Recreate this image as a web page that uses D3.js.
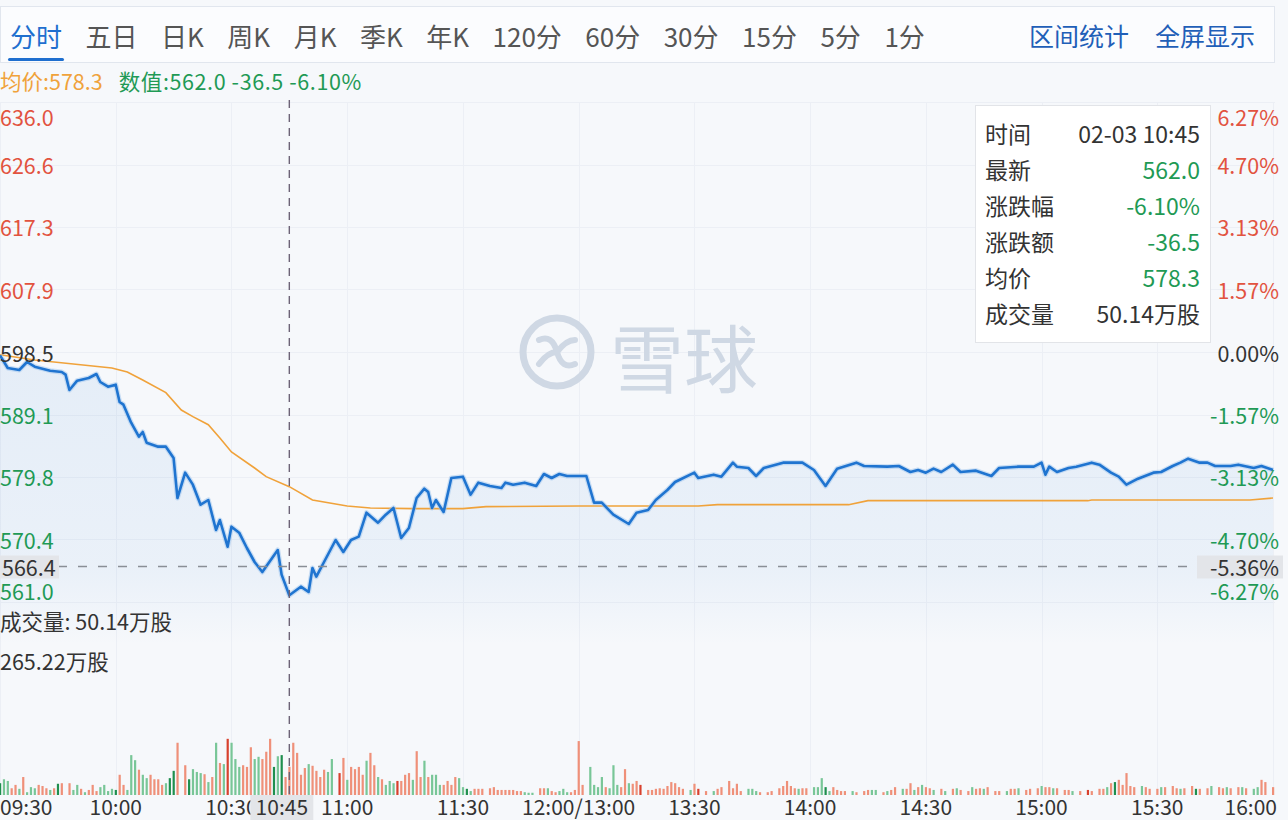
<!DOCTYPE html>
<html><head><meta charset="utf-8">
<script src="https://cdn.jsdelivr.net/npm/d3@7"></script>
<style>
body{margin:0;background:#f6f8fb;}
svg{display:block;font-family:"Noto Sans CJK SC","Noto Sans",sans-serif;}
</style>
</head><body>
<svg id="chart" width="1288" height="820"></svg>
<script>
// ---------------- data ----------------
const tabs = ["分时","五日","日K","周K","月K","季K","年K","120分","60分","30分","15分","5分","1分"];
const rightTabs = ["区间统计","全屏显示"];
const basePrice = 598.5;
const priceTicks = [636.0, 626.6, 617.3, 607.9, 598.5, 589.1, 579.8, 570.4, 561.0];
const pctTicks = ["6.27%","4.70%","3.13%","1.57%","0.00%","-1.57%","-3.13%","-4.70%","-6.27%"];
const timeTicks = [0,30,60,90,120,150,180,210,240,270,300,330]; // trading minutes since 09:30
const timeLabels = ["09:30","10:00","10:30","11:00","11:30","12:00/13:00","13:30","14:00","14:30","15:00","15:30","16:00"];

// price (blue) line: trading minute -> price
const priceMin = [0,2,5,7,9,13,16,17,18,20,23,25,26,28,30,31,32,34,36,37,38,41,43,45,46,48,50,52,54,56,57,59,60,62,64,66,68,72,73,75,78,80,81,82,84,87,89,91,93,95,98,100,102,104,106,108,110,111,112,113,115,117,120,122,124,127,130,131,133,136,139,141,143,145,147,152,154,156,159,163,165,168,170,173,175,180,181,185,187,190,191,194,196,198,203,206,208,211,214,217,222,224,230,233,236,238,240,242,244,247,249,253,257,259,264,268,270,271,272,274,277,279,283,285,288,290,292,295,299,301,304,306,308,311,313,315,319,321,325,327,330];
const priceVal = [598.0,596.1,595.8,597.0,596.3,595.7,595.5,595.1,592.8,594.2,594.6,595.2,594.0,593.3,593.6,591.0,590.6,587.9,585.8,586.5,584.9,584.3,584.3,582.6,576.6,580.4,578.6,575.6,576.3,571.8,573.3,569.3,572.3,571.4,569.1,567.0,565.5,568.8,565.1,562.0,563.3,562.5,566.1,564.8,567.0,570.3,568.5,570.3,570.8,574.4,572.9,574.1,575.1,570.6,572.1,576.6,578.0,577.5,575.1,576.3,574.5,579.6,579.8,577.1,578.9,578.4,578.1,578.9,578.6,578.9,578.4,580.2,579.6,580.2,579.9,579.9,575.9,575.9,574.1,572.7,574.4,574.8,576.3,577.8,579.0,580.4,579.6,580.1,579.8,581.9,581.3,581.1,579.9,581.1,581.9,581.9,581.9,580.8,578.4,581.0,581.9,581.4,581.3,581.4,580.5,580.8,580.4,581.0,580.5,581.6,580.5,580.7,579.9,581.1,581.3,581.3,581.9,580.1,581.3,580.5,581.1,581.3,581.9,581.6,580.4,579.8,578.6,579.5,580.4,580.5,581.4,581.9,582.5,581.9,581.9,581.4,581.4,581.6,581.1,581.4,580.8];

// average price (orange) line
const avgMin = [0,9,29,33,37,43,47,50,54,57,60,66,69,75,81,90,96,107,120,126,150,181,186,220,225,282,283,324,330];
const avgVal = [598.1,597.3,596.1,595.5,594.3,592.4,589.8,588.8,587.6,585.6,583.5,581.1,579.8,578.3,576.3,575.4,575.1,575.0,575.0,575.3,575.4,575.4,575.6,575.6,576.2,576.2,576.3,576.3,576.6];

// volume bars (万股): minute, volume, colour code (r/R = up, g/G = down; capitals darker)
const volMin = [0,1,2,3,4,5,6,7,8,9,10,11,12,13,14,15,16,18,19,20,21,22,23,24,25,26,27,28,29,30,31,32,33,34,35,36,37,38,39,40,41,42,43,44,45,46,48,49,50,51,52,53,54,55,56,57,58,59,60,61,62,63,64,65,66,67,68,69,70,71,72,73,74,75,76,77,78,79,80,81,82,83,84,
85,86,88,89,90,91,92,93,94,95,96,97,98,99,100,101,102,103,104,105,106,107,108,109,110,111,112,113,114,115,116,117,118,119,120,121,122,123,124,125,127,128,129,130,131,132,133,134,135,136,137,138,140,141,142,143,144,145,146,147,148,149,
150,151,153,154,155,156,157,158,159,160,161,162,163,164,165,
166,168,169,170,171,172,173,174,175,176,177,179,180,181,183,185,186,187,189,190,191,192,194,195,196,197,199,200,202,203,204,205,206,207,208,209,211,212,213,214,215,216,217,218,219,221,222,224,225,226,227,229,230,231,232,234,235,236,237,238,239,240,241,242,244,245,247,248,249,251,252,253,254,255,256,258,259,261,262,263,264,266,267,269,270,271,272,273,274,276,277,278,280,282,283,285,286,287,288,289,290,291,292,293,294,296,297,298,300,301,302,304,305,306,307,309,310,311,313,314,316,317,318,319,321,322,323,325,326,327,328,330];
const volVal = [21,28,25,12,18,11,32,5,14,12,18,16,12,9,12,20,21,21,9,18,11,5,9,18,7,14,18,7,11,9,36,18,9,71,62,45,36,30,36,28,28,18,21,30,43,93,53,28,46,41,39,37,23,32,93,57,55,100,93,64,50,53,50,85,64,68,64,77,100,50,69,71,32,50.14,93,75,36,48,55,52,43,32,45,
41,64,39,66,27,50,46,50,36,61,75,53,32,28,18,25,21,25,25,36,39,27,78,32,61,32,36,36,18,18,25,18,32,30,14,11,7,11,11,11,12,14,9,9,9,9,9,7,7,5,4,4,12,12,12,7,5,7,11,5,5,9,
96,18,50,18,14,32,14,12,53,18,14,46,21,20,25,
18,9,9,11,12,11,16,23,21,14,11,9,20,11,7,7,11,14,25,12,20,7,11,11,7,5,5,7,12,16,25,16,12,11,12,12,14,14,30,14,7,14,9,7,7,7,5,7,9,9,9,5,7,9,14,11,11,21,9,14,18,14,12,9,11,7,11,12,9,7,14,11,12,11,14,7,7,7,11,11,12,9,11,12,16,14,14,12,12,9,9,7,7,9,7,11,11,14,21,23,27,18,39,16,14,16,14,11,11,14,14,16,12,11,12,16,11,11,12,16,14,12,14,12,14,14,12,11,14,27,23,14];
const volCol = "GggrrgrgggrrrgrGrrggrgrrrggggGrrgggrggrrrrgGGrrGgggrgrgrgRgggrrrggrrrGgGrrrrrrgrr"
 + "rrggRrgrrrrgrrgrgggRrrrgrrgrgggrrrrggGgrrrrrrrrrrrrgggrrgrrgggrr"
 + "rrggggrgggrrgrrR"
 + "rrrrrrrrrrgrRrgrrrrrrgggrrrrrrrrgrrgggGgrrrrgrrrggrgrrgrrgrgrrgrgrgrrgrrgrrrgrrgrrrgrrgrrrgrRrrrgrGrrrrrgrrrgrrrgrrGrrgrrgrrgrgg";
const maxVol = 265.22;

// tooltip contents
const tipLabels = ["时间","最新","涨跌幅","涨跌额","均价","成交量"];
const tipValues = ["02-03 10:45","562.0","-6.10%","-36.5","578.3","50.14万股"];
const crossMin = 75;          // 10:45
const crossTimeLabel = "10:45";
const lowLine = 566.4;
const lowLinePct = "-5.36%";
const volNow = "50.14万股";

// ---------------- drawing ----------------
const RED = "#e2533f", GREEN = "#1f9a55", DARK = "#333", ORANGE = "#f0a23a", BLUE = "#1f74d0";
const svg = d3.select("#chart");
const W = 1288, H = 820;
svg.append("rect").attr("width", W).attr("height", H).attr("fill", "#f6f8fb");

const x = d3.scaleLinear().domain([0, 330]).range([0, 1273]);
const y = d3.scaleLinear().domain([561.0, 636.0]).range([602, 102]);
const yv = d3.scaleLinear().domain([0, maxVol]).range([795, 646]);

// defs
const defs = svg.append("defs");
const grad = defs.append("linearGradient").attr("id", "areaGrad").attr("x1", 0).attr("y1", 0).attr("x2", 0).attr("y2", 1);
grad.append("stop").attr("offset", "0%").attr("stop-color", "#1f74d0").attr("stop-opacity", 0.08);
grad.append("stop").attr("offset", "75%").attr("stop-color", "#1f74d0").attr("stop-opacity", 0.055);
grad.append("stop").attr("offset", "100%").attr("stop-color", "#1f74d0").attr("stop-opacity", 0.0);

// header tab bar
svg.append("rect").attr("x", 0.5).attr("y", 6.5).attr("width", 1274).attr("height", 56)
  .attr("fill", "#fbfcfe").attr("stroke", "#e1e6ee");
const tabG = svg.append("g");
let tx = 10;
tabs.forEach((t, i) => {
  const el = tabG.append("text").attr("x", tx).attr("y", 35).attr("dominant-baseline", "central")
    .attr("font-size", 26).attr("fill", i === 0 ? "#1f6fcf" : "#555").text(t);
  const w = el.node().getComputedTextLength();
  if (i === 0) tabG.append("rect").attr("x", tx - 2).attr("y", 58).attr("width", w + 4).attr("height", 3).attr("rx", 1.5).attr("fill", "#1f6fcf");
  tx += w + 23.5;
});
let rx = 1255;
rightTabs.slice().reverse().forEach(t => {
  const el = tabG.append("text").attr("x", rx).attr("y", 35).attr("dominant-baseline", "central")
    .attr("text-anchor", "end").attr("font-size", 25).attr("fill", "#1f5fb8").text(t);
  rx -= el.node().getComputedTextLength() + 26;
});

// info line
const info = svg.append("text").attr("x", 0).attr("y", 80).attr("dominant-baseline", "central").attr("font-size", 21.5);
info.append("tspan").attr("fill", ORANGE).text("均价:" + avgVal[avgMin.indexOf(crossMin)].toFixed(1));
info.append("tspan").attr("dx", 16).attr("fill", GREEN).attr("letter-spacing", 0.6).text("数值:" + tipValues[1] + " " + tipValues[3] + " " + tipValues[2]);

// grid
const grid = svg.append("g").attr("stroke", "#eceff5").attr("stroke-width", 1);
priceTicks.forEach(v => grid.append("line").attr("x1", 0).attr("x2", 1275).attr("y1", Math.round(y(v)) + 0.5).attr("y2", Math.round(y(v)) + 0.5));
timeTicks.forEach(t => grid.append("line").attr("x1", Math.round(x(t)) + 0.5).attr("x2", Math.round(x(t)) + 0.5).attr("y1", 102).attr("y2", 795));

// watermark
const wm = svg.append("g");
wm.append("circle").attr("cx", 557).attr("cy", 352).attr("r", 34).attr("fill", "none").attr("stroke", "#cfd8e4").attr("stroke-width", 7);
wm.append("path").attr("d", "M539,340 Q552,334 557,352 Q562,370 575,364 M539,364 Q548,352 557,352 M557,352 Q566,340 575,340")
  .attr("fill", "none").attr("stroke", "#cfd8e4").attr("stroke-width", 6).attr("stroke-linecap", "round");
wm.append("text").attr("x", 610).attr("y", 354).attr("dominant-baseline", "central").attr("font-size", 74)
  .attr("fill", "#cfd8e4").text("雪球");

// price area + lines
const pts = priceMin.map((m, i) => [m, priceVal[i]]);
svg.append("path").datum(pts)
  .attr("d", d3.area().x(d => x(d[0])).y0(645).y1(d => y(d[1])))
  .attr("fill", "url(#areaGrad)");
svg.append("path").datum(avgMin.map((m, i) => [m, avgVal[i]]))
  .attr("d", d3.line().x(d => x(d[0])).y(d => y(d[1])))
  .attr("fill", "none").attr("stroke", ORANGE).attr("stroke-width", 1.6);
svg.append("path").datum(pts)
  .attr("d", d3.line().x(d => x(d[0])).y(d => y(d[1])))
  .attr("fill", "none").attr("stroke", "#9cc3ee").attr("stroke-width", 5).attr("stroke-opacity", 0.5).attr("stroke-linejoin", "round");
svg.append("path").datum(pts)
  .attr("d", d3.line().x(d => x(d[0])).y(d => y(d[1])))
  .attr("fill", "none").attr("stroke", BLUE).attr("stroke-width", 2.6).attr("stroke-linejoin", "round");

// volume bars
const colMap = { r: "#ef9079", R: "#d8412e", g: "#78c697", G: "#1f8f4e" };
svg.append("g").selectAll("rect").data(volMin.map((m, i) => ({ m, v: volVal[i], c: volCol[i] })))
  .join("rect")
  .attr("x", d => x(d.m) - 1).attr("width", 2.2)
  .attr("y", d => yv(d.v)).attr("height", d => yv(0) - yv(d.v))
  .attr("fill", d => colMap[d.c] || colMap.r);

// axes labels (left price / right pct)
const axL = svg.append("g").attr("font-size", 21.5);
priceTicks.forEach((v, i) => {
  const c = v > basePrice ? RED : (v < basePrice ? GREEN : DARK);
  const dy = i === 0 ? 14 : (i === priceTicks.length - 1 ? -12 : 0);
  axL.append("text").attr("x", 0).attr("y", y(v) + dy).attr("dominant-baseline", "central").attr("fill", c).text(v.toFixed(1));
  axL.append("text").attr("x", 1279).attr("y", y(v) + dy).attr("dominant-baseline", "central").attr("text-anchor", "end").attr("fill", c).text(pctTicks[i]);
});

// low dashed line with markers
const yl = Math.round(y(lowLine)) + 0.5;
svg.append("line").attr("x1", 58).attr("x2", 1197).attr("y1", yl).attr("y2", yl)
  .attr("stroke", "#8a8f96").attr("stroke-width", 1.5).attr("stroke-dasharray", "9,11");
svg.append("rect").attr("x", 0).attr("y", yl - 11).attr("width", 59).attr("height", 23).attr("fill", "#e3e5e9");
svg.append("text").attr("x", 2).attr("y", yl).attr("dominant-baseline", "central").attr("font-size", 21.5).attr("fill", DARK).text(lowLine.toFixed(1));
svg.append("rect").attr("x", 1197).attr("y", yl - 11).attr("width", 86).attr("height", 23).attr("fill", "#e3e5e9");
svg.append("text").attr("x", 1279).attr("y", yl).attr("dominant-baseline", "central").attr("text-anchor", "end").attr("font-size", 21.5).attr("fill", DARK).text(lowLinePct);

// crosshair
const cx = x(crossMin);
svg.append("line").attr("x1", cx).attr("x2", cx).attr("y1", 100).attr("y2", 797)
  .attr("stroke", "#6d6377").attr("stroke-width", 1.4).attr("stroke-dasharray", "8,6");

// volume labels
svg.append("text").attr("x", 0).attr("y", 620).attr("dominant-baseline", "central").attr("font-size", 21.5).attr("fill", DARK).text("成交量: " + volNow);
svg.append("text").attr("x", 0).attr("y", 660).attr("dominant-baseline", "central").attr("font-size", 21.5).attr("fill", DARK).text(maxVol.toFixed(2) + "万股");

// time axis labels
const axB = svg.append("g").attr("font-size", 21).attr("fill", DARK);
timeTicks.forEach((t, i) => {
  const last = i === timeTicks.length - 1;
  axB.append("text").attr("x", i === 0 ? 0 : (last ? 1277 : x(t)))
    .attr("text-anchor", i === 0 ? "start" : (last ? "end" : "middle"))
    .attr("y", 806).attr("dominant-baseline", "central").text(timeLabels[i]);
});
svg.append("rect").attr("x", cx - 39).attr("y", 795).attr("width", 63).attr("height", 25).attr("fill", "#e3e5e9");
svg.append("text").attr("x", cx - 7.5).attr("y", 806).attr("dominant-baseline", "central").attr("text-anchor", "middle")
  .attr("font-size", 21).attr("fill", DARK).text(crossTimeLabel);

// tooltip box
const tip = svg.append("g");
tip.append("rect").attr("x", 975.5).attr("y", 105.5).attr("width", 235).attr("height", 237)
  .attr("fill", "#ffffff").attr("stroke", "#e2e4e8");
const tipColors = [DARK, GREEN, GREEN, GREEN, GREEN, DARK];
tipLabels.forEach((l, i) => {
  const ty = 133 + i * 36;
  tip.append("text").attr("x", 985).attr("y", ty).attr("dominant-baseline", "central").attr("font-size", 23).attr("fill", DARK).text(l);
  tip.append("text").attr("x", 1200).attr("y", ty).attr("dominant-baseline", "central").attr("text-anchor", "end").attr("font-size", 23).attr("fill", tipColors[i]).text(tipValues[i]);
});
</script>
</body></html>
